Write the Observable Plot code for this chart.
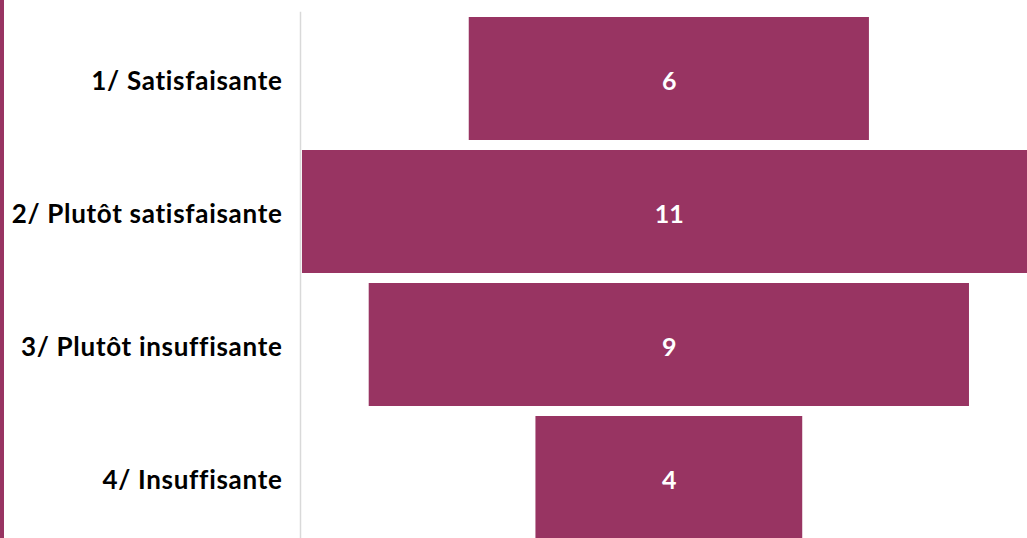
<!DOCTYPE html>
<html>
<head>
<meta charset="utf-8">
<script src="https://cdn.jsdelivr.net/npm/d3@7"></script>
<script src="https://cdn.jsdelivr.net/npm/@observablehq/plot@0.6"></script>
<style>
  html, body { margin: 0; padding: 0; background: #fff; }
  #wrap { position: relative; width: 1027px; height: 538px; overflow: hidden; }
  #stripe { position: absolute; left: 0; top: 0; width: 4px; height: 538px; background: #983462; }
  g[aria-label="y-axis tick label"] text { letter-spacing: 0.7px; }
</style>
</head>
<body>
<div id="wrap"><div id="stripe"></div></div>
<script>
const categories = ["1/ Satisfaisante", "2/ Plutôt satisfaisante", "3/ Plutôt insuffisante", "4/ Insuffisante"];
const values = [6, 11, 9, 4];

const data = categories.map((c, i) => ({category: c, value: values[i]}));
const color = "#983462";

const chart = Plot.plot({
  width: 1027,
  height: 538,
  marginLeft: 300,
  marginRight: 0,
  marginTop: 12,
  marginBottom: 0,
  style: {fontFamily: "Lato, 'Open Sans', sans-serif", background: "white", overflow: "hidden"},
  x: {domain: [-5.53, 5.37], axis: null},
  y: {domain: categories, range: [12, 545], paddingInner: 0.075, paddingOuter: 0.0375, label: null},
  marks: [
    Plot.barX(data, {y: "category", x1: d => -d.value / 2, x2: d => d.value / 2, fill: color}),
    Plot.text(data, {y: "category", x: d => (-d.value / 2 + d.value / 2) / 2, text: d => String(d.value), fill: "white", fontSize: 25, fontWeight: "bold", dy: 3}),
    Plot.axisY({tickSize: 0, tickPadding: 18, fontSize: 26, fontWeight: "bold", fill: "black", label: null, dy: 3}),
    Plot.frame({anchor: "left", stroke: "#d9d9d9", strokeWidth: 1.5})
  ]
});
document.getElementById("wrap").prepend(chart);
</script>
</body>
</html>
